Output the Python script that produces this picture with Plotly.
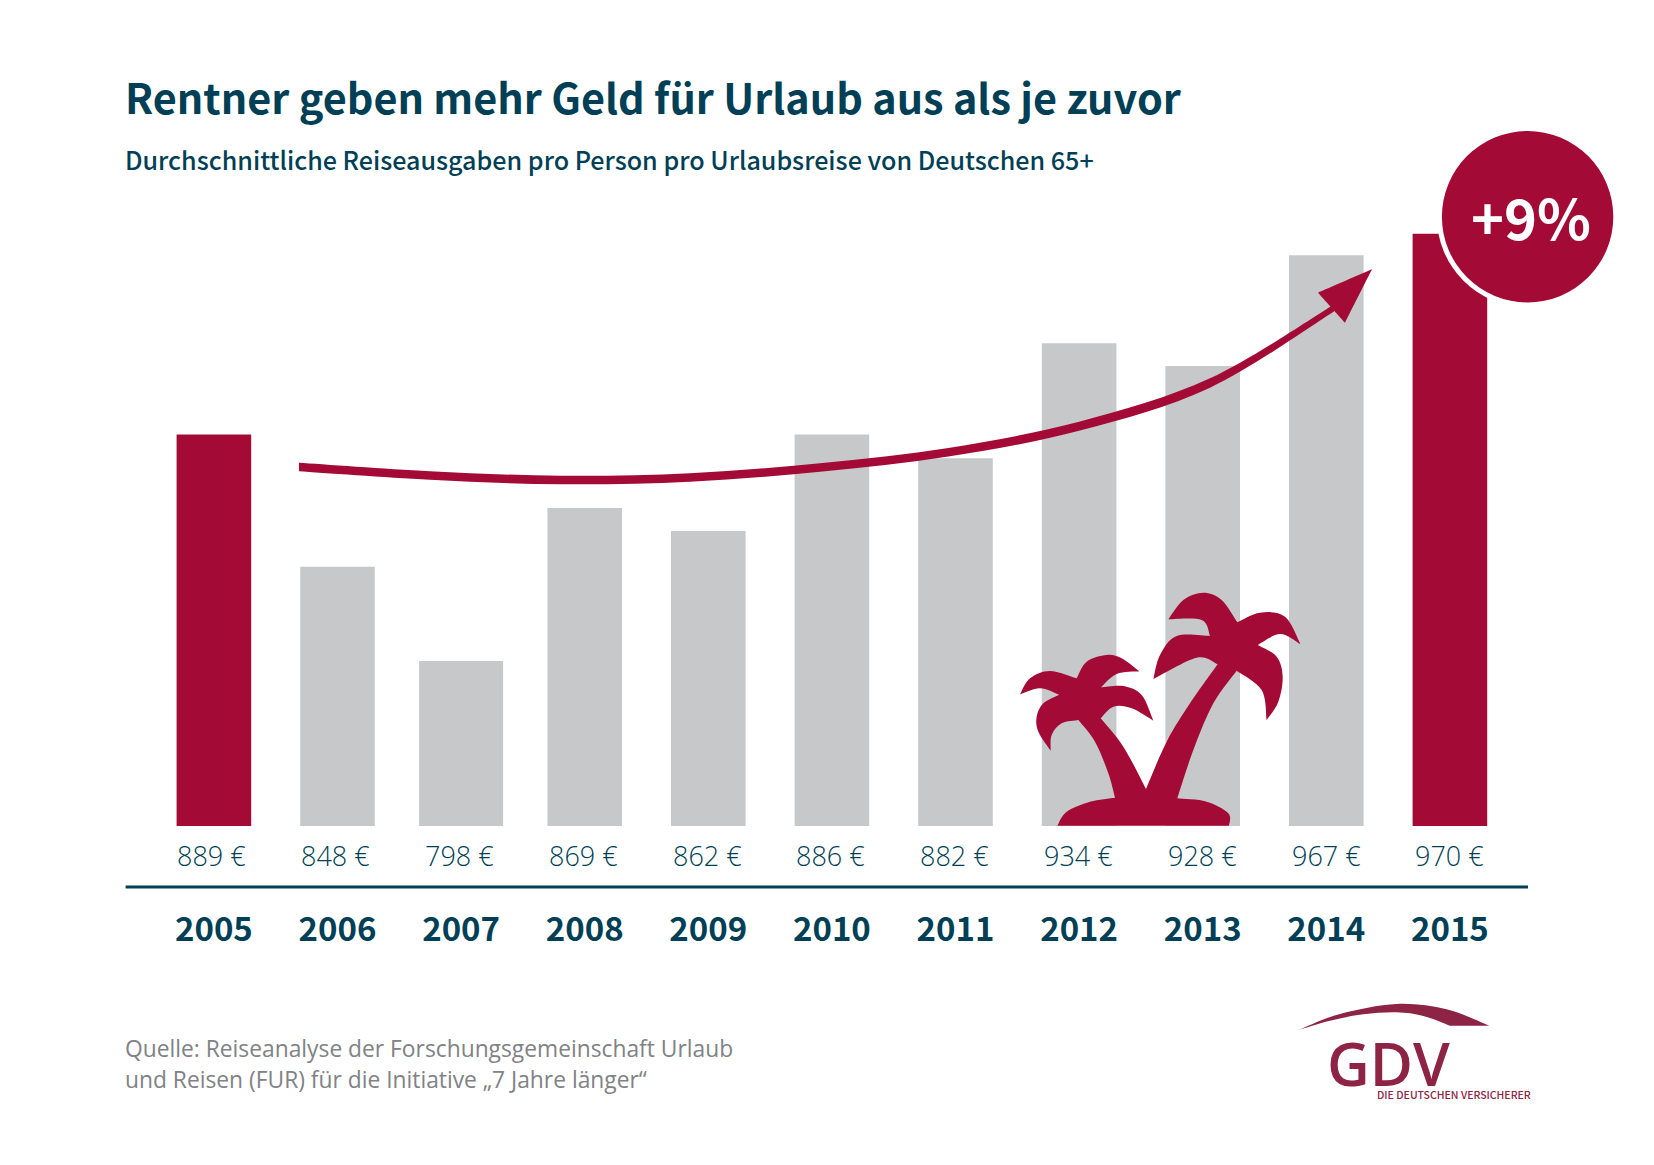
import plotly.graph_objects as go

# data
years = [2005, 2006, 2007, 2008, 2009, 2010, 2011, 2012, 2013, 2014, 2015]
# printed values
euro_labels = [889, 848, 798, 869, 862, 886, 882, 934, 928, 967, 970]
# heights as actually drawn in the graphic, the bars do not quite follow the printed numbers
drawn_levels = [889.4, 836.2, 798.3, 859.8, 850.6, 889.4, 879.8, 926.0, 916.9, 961.4, 970.0]
highlight_years = [2005, 2015]

title = "Rentner geben mehr Geld für Urlaub aus als je zuvor"
subtitle = "Durchschnittliche Reiseausgaben pro Person pro Urlaubsreise von Deutschen 65+"
source_lines = [
    "Quelle: Reiseanalyse der Forschungsgemeinschaft Urlaub",
    "und Reisen (FUR) für die Initiative „7 Jahre länger“",
]
badge = "+9%"

# the page has an 8px body margin, everything below is measured on the whole page
PAGE_MARGIN = 8
W, H = 1654 - 2 * PAGE_MARGIN, 1165 - 2 * PAGE_MARGIN
CRIMSON = "#a30a36"
GRAY = "#c7c8ca"
NAVY = "#003f56"
LOGO = "#8e2445"
SOURCE_GRAY = "#808285"

PX_PER_YEAR = 123.6
X_2005 = 213.9
AXIS_Y = 826
PX_PER_EURO = 2.488
BASE_EURO = 732


def xp(x):
    return (x - PAGE_MARGIN) / W


def yp(y):
    return 1 - (y - PAGE_MARGIN) / H


def pt(x, y):
    return f"{xp(x):.5f},{yp(y):.5f}"


def curve(points):
    # catmull-rom through the points, as cubic segments
    d = ""
    for i in range(len(points) - 1):
        p0 = points[max(i - 1, 0)]
        p1 = points[i]
        p2 = points[i + 1]
        p3 = points[min(i + 2, len(points) - 1)]
        c1 = (p1[0] + (p2[0] - p0[0]) / 6, p1[1] + (p2[1] - p0[1]) / 6)
        c2 = (p2[0] - (p3[0] - p1[0]) / 6, p2[1] - (p3[1] - p1[1]) / 6)
        d += " C " + pt(*c1) + " " + pt(*c2) + " " + pt(*p2)
    return d


def outline(segments, x0=0, y0=0, scale=1.0):
    # closed shape made of smooth pieces that meet in sharp corners
    segs = [[(x0 + a * scale, y0 + b * scale) for a, b in s] for s in segments]
    d = "M " + pt(*segs[0][0])
    for s in segs:
        d += curve(s)
    return d + " Z"


fig = go.Figure()

bar_colors = [CRIMSON if y in highlight_years else GRAY for y in years]
bar_widths = [(84 if y == 2007 else 74.6) / PX_PER_YEAR for y in years]
fig.add_trace(
    go.Bar(
        x=years,
        y=drawn_levels,
        width=bar_widths,
        marker=dict(color=bar_colors, line=dict(width=0)),
        hoverinfo="skip",
    )
)

# the euro labels sit under the bars
for y, v in zip(years, euro_labels):
    fig.add_annotation(
        x=y, y=BASE_EURO, xref="x", yref="y", text=f"{v} €", showarrow=False,
        yanchor="middle", yshift=-29, xshift=-2 * (2015 - y) / 10,
        font=dict(family="Open Sans", size=27, color=NAVY, weight=300),
    )

shapes = []

# rule between euro labels and years
shapes.append(dict(type="line", xref="paper", yref="paper", x0=xp(125.6), x1=xp(1528),
                   y0=yp(887), y1=yp(887), line=dict(color=NAVY, width=3)))

# arrow: centre line and its vertical thickness
arrow_x = [299, 430, 560, 690, 820, 950, 1080, 1210, 1334]
arrow_y = [467, 475.5, 480, 477.5, 467.5, 452, 426, 383, 308]
arrow_t = [8.7, 8.7, 8.5, 8.5, 8.5, 8.7, 9, 9.3, 7]
upper = [(x, y - t / 2) for x, y, t in zip(arrow_x, arrow_y, arrow_t)]
lower = [(x, y + t / 2) for x, y, t in zip(arrow_x, arrow_y, arrow_t)]
arrow_path = "M " + pt(*upper[0]) + curve(upper) + " L " + pt(*lower[-1]) + curve(lower[::-1]) + " Z"
shapes.append(dict(type="path", xref="paper", yref="paper", path=arrow_path,
                   fillcolor=CRIMSON, line=dict(width=0)))
head = [[(1372, 269.3), (1345, 322.7)], [(1345, 322.7), (1318, 292.7)], [(1318, 292.7), (1372, 269.3)]]
shapes.append(dict(type="path", xref="paper", yref="paper", path=outline(head),
                   fillcolor=CRIMSON, line=dict(width=0)))

# badge with white ring cutting into the 2015 bar
cx, cy, r = 1527.6, 216.7, 85.7
for rad, col in [(r + 5, "white"), (r, CRIMSON)]:
    shapes.append(dict(type="circle", xref="paper", yref="paper", x0=xp(cx - rad), x1=xp(cx + rad),
                       y0=yp(cy + rad), y1=yp(cy - rad), fillcolor=col, line=dict(width=0)))

# palm trees, traced on a 3x crop of the picture
palm = [
    [(232, 797), (260, 755), (330, 725), (405, 713)],
    [(405, 713), (385, 640), (345, 545), (295, 480)],
    [(295, 480), (245, 490), (215, 525), (212, 572)],
    [(212, 572), (175, 515), (170, 470), (190, 430), (237, 404)],
    [(237, 404), (180, 385), (120, 403)],
    [(120, 403), (150, 355), (210, 333), (290, 355)],
    [(290, 355), (320, 305), (380, 285), (425, 295), (478, 334)],
    [(478, 334), (410, 342), (363, 382)],
    [(363, 382), (430, 378), (485, 405), (520, 482)],
    [(520, 482), (455, 445), (400, 440), (362, 475)],
    [(362, 475), (430, 560), (498, 687)],
    [(498, 687), (560, 545), (630, 430), (713, 313)],
    [(713, 313), (650, 293), (520, 357)],
    [(520, 357), (540, 285), (590, 228), (690, 228)],
    [(690, 228), (665, 180), (565, 178)],
    [(565, 178), (610, 120), (670, 98), (725, 120), (772, 187)],
    [(772, 187), (840, 158), (915, 170), (962, 253)],
    [(962, 253), (900, 222), (833, 255)],
    [(833, 255), (890, 290), (908, 350), (895, 425), (860, 480)],
    [(860, 480), (845, 390), (770, 332)],
    [(770, 332), (700, 430), (640, 570), (592, 715)],
    [(592, 715), (680, 725), (745, 760), (747, 797)],
]
shapes.append(dict(type="path", xref="paper", yref="paper", path=outline(palm, 980, 560, 1 / 3),
                   fillcolor=CRIMSON, line=dict(width=0)))

# logo swoosh
swoosh = [
    [(175, 150), (300, 102), (470, 72), (620, 88), (748, 137)],
    [(748, 137), (630, 137)],
    [(630, 137), (550, 108), (470, 97), (370, 103), (270, 122), (175, 150)],
]
shapes.append(dict(type="path", xref="paper", yref="paper", path=outline(swoosh, 1240, 980, 1 / 3),
                   fillcolor=LOGO, line=dict(width=0)))


def add_text(x, y, text, family, size, color, anchor="left", weight=400):
    fig.add_annotation(x=xp(x), y=yp(y), xref="paper", yref="paper", text=text, showarrow=False,
                       xanchor=anchor, yanchor="middle",
                       font=dict(family=family, size=size, color=color, weight=weight))


add_text(123, 96, title, "Noto Sans CJK SC", 41.4, NAVY, weight=700)
add_text(123, 159, subtitle, "Noto Sans CJK SC", 25.1, NAVY, weight=500)
add_text(123, 1048, source_lines[0], "Open Sans", 22.8, SOURCE_GRAY)
add_text(123, 1079, source_lines[1], "Open Sans", 22.8, SOURCE_GRAY)
add_text(1531, 215, badge, "Noto Sans CJK SC", 56, "white", anchor="center", weight=700)
add_text(1388, 1063, "GDV", "Open Sans", 59, LOGO, anchor="center", weight=600)
add_text(1454, 1094, "DIE DEUTSCHEN VERSICHERER", "Noto Sans CJK SC", 10.5, LOGO, anchor="center", weight=500)

x_low = 2005 - (X_2005 - PAGE_MARGIN) / PX_PER_YEAR
fig.update_layout(
    width=W,
    height=H,
    margin=dict(l=0, r=0, t=0, b=0),
    paper_bgcolor="white",
    plot_bgcolor="white",
    showlegend=False,
    shapes=shapes,
    xaxis=dict(
        domain=[0, 1],
        range=[x_low, x_low + W / PX_PER_YEAR],
        tickmode="array",
        tickvals=years,
        ticktext=[str(y) for y in years],
        tickfont=dict(family="Noto Sans CJK SC", size=33, color=NAVY, weight=700),
        ticks="",
        ticklabelstandoff=81,
        showgrid=False,
        zeroline=False,
        showline=False,
    ),
    yaxis=dict(
        domain=[yp(AXIS_Y), 1],
        range=[BASE_EURO, BASE_EURO + (AXIS_Y - PAGE_MARGIN) / PX_PER_EURO],
        visible=False,
    ),
)

fig.write_html("out.html")
